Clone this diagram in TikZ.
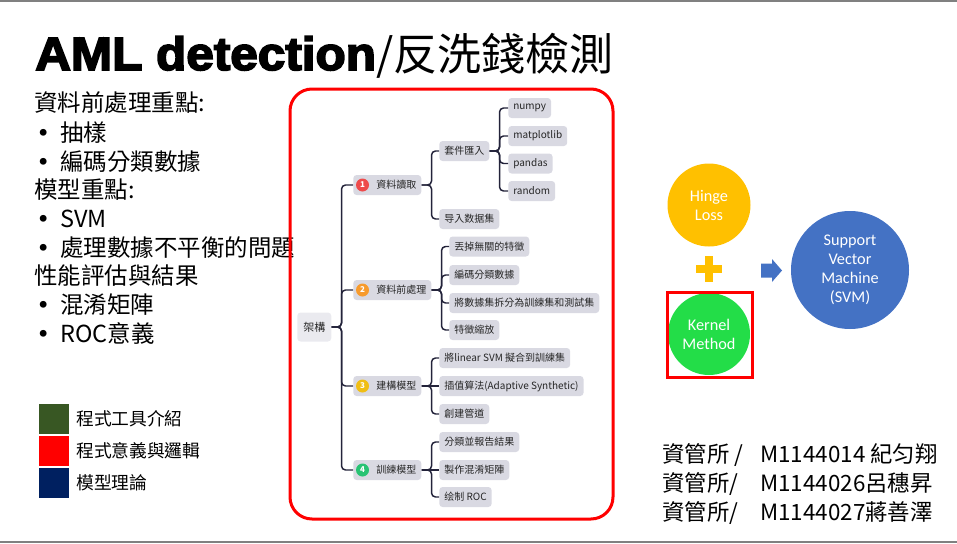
\documentclass[tikz,border=0pt]{standalone}
\usepackage{fontspec}
\usepackage{graphicx}
\setmainfont{Noto Sans CJK TC}
\newfontfamily\titlefont[FakeBold=3.5]{Liberation Sans Bold}
\newfontfamily\circfont{Carlito}
\newfontfamily\dotfont{DejaVu Sans}
\usetikzlibrary{calc}

\definecolor{mmfill}{RGB}{217,217,226}
\definecolor{mmroot}{RGB}{234,234,239}
\definecolor{mmline}{RGB}{35,35,58}
\definecolor{legG}{RGB}{56,87,35}
\definecolor{legN}{RGB}{0,32,96}
\definecolor{hingeC}{RGB}{255,192,0}
\definecolor{kernC}{RGB}{35,221,72}
\definecolor{svmC}{RGB}{68,114,196}
\definecolor{icA}{RGB}{238,75,75}
\definecolor{icB}{RGB}{247,155,45}
\definecolor{icC}{RGB}{240,190,20}
\definecolor{icD}{RGB}{40,195,115}
\definecolor{rule}{RGB}{128,128,128}

\newcommand{\bul}{\makebox[18pt][l]{\dotfont •}}

\tikzset{
  lt/.style={anchor=west, inner sep=0pt, font=\fontsize{17.6}{21}\selectfont},
  legsq/.style={minimum size=22.5pt, inner sep=0pt},
  legtxt/.style={anchor=west, inner sep=0pt, font=\fontsize{13.3}{16}\selectfont},
  mmbox/.style={anchor=west, fill=mmfill, rounded corners=2.5pt, inner xsep=3.75pt,
    inner ysep=0pt, minimum height=15pt, text=black!85, font=\fontsize{7.5}{9}\selectfont},
  mmtop/.style={mmbox, fill=mmroot, minimum height=21.75pt, inner xsep=4.5pt,
    font=\fontsize{8.25}{10}\selectfont},
  mmicon/.style={circle, inner sep=0pt, minimum size=9.75pt, text=white,
    font=\fontsize{6}{6}\selectfont\bfseries},
  conn/.style={draw=mmline, line width=1.1pt, rounded corners=3pt},
  ball/.style={circle, inner sep=0pt, text=white, align=center,
    font=\circfont\fontsize{12.2}{14.25}\selectfont},
  author/.style={anchor=west, inner sep=0pt, font=\fontsize{16.8}{20}\selectfont}
}

\begin{document}
\begin{tikzpicture}[x=0.75pt, y=-0.75pt]
\useasboundingbox (0,0) rectangle (957,543);

% slide rules
\draw[rule, line width=1.5pt] (0,1) -- (957,1);
\draw[rule, line width=1.5pt] (0,541.5) -- (957,541.5);

% title
\node[anchor=base west, inner sep=0pt] (title) at (35,70)
  {\scalebox{1.06}[1]{\titlefont\fontsize{35}{40}\selectfont AML detection}{\fontsize{33}{40}\selectfont/反洗錢檢測}};

% key points list
\node[lt] (h1) at (34,103) {資料前處理重點:};
\node[lt] (b1) at (36,133) {\bul 抽樣};
\node[lt] (b2) at (36,162) {\bul 編碼分類數據};
\node[lt] (h2) at (34,190) {模型重點:};
\node[lt] (b3) at (36,219) {\bul SVM};
\node[lt] (b4) at (36,248) {\bul 處理數據不平衡的問題};
\node[lt] (h3) at (34,276) {性能評估與結果};
\node[lt] (b5) at (36,305) {\bul 混淆矩陣};
\node[lt] (b6) at (36,333) {\bul ROC意義};

% legend
\node[legsq, fill=legG] (sq1) at (54,419) {};
\node[legsq, fill=red] (sq2) at (54,451) {};
\node[legsq, fill=legN] (sq3) at (54,483) {};
\node[legtxt] (lg1) at (76,419) {程式工具介紹};
\node[legtxt] (lg2) at (76,451) {程式意義與邏輯};
\node[legtxt] (lg3) at (76,483) {模型理論};

% frame around the mind map
\draw[red, line width=2.25pt, rounded corners=16.5pt] (290,89) rectangle (613,519);

% mind map: root and main branches
\node[mmtop] (root) at (297,327) {架構};
\node[mmbox] (n1) at (353,185) {\hspace*{13.5pt}資料讀取};
\node[mmbox] (n2) at (353,290) {\hspace*{13.5pt}資料前處理};
\node[mmbox] (n3) at (353,386) {\hspace*{13.5pt}建構模型};
\node[mmbox] (n4) at (353,470) {\hspace*{13.5pt}訓練模型};
\node[mmicon, fill=icA] (i1) at ($(n1.west)+(9.5,0)$) {1};
\node[mmicon, fill=icB] (i2) at ($(n2.west)+(9.5,0)$) {2};
\node[mmicon, fill=icC] (i3) at ($(n3.west)+(9.5,0)$) {3};
\node[mmicon, fill=icD] (i4) at ($(n4.west)+(9.5,0)$) {4};

% branch 1
\node[mmbox] (a1) at (439,151) {套件匯入};
\node[mmbox] (a2) at (439,219) {导入数据集};
\node[mmbox] (p1) at (508,108) {numpy};
\node[mmbox] (p2) at (508,136) {matplotlib};
\node[mmbox] (p3) at (508,163.5) {pandas};
\node[mmbox] (p4) at (508,191) {random};

% branch 2
\node[mmbox] (c1) at (449,246.5) {丟掉無關的特徵};
\node[mmbox] (c2) at (449,275) {編碼分類數據};
\node[mmbox] (c3) at (449,303) {將數據集拆分為訓練集和測試集};
\node[mmbox] (c4) at (449,330) {特徵縮放};

% branch 3
\node[mmbox] (d1) at (439,358) {將linear SVM 擬合到訓練集};
\node[mmbox] (d2) at (439,386) {插值算法(Adaptive Synthetic)};
\node[mmbox] (d3) at (439,414) {創建管道};

% branch 4
\node[mmbox] (e1) at (439,442) {分類並報告結果};
\node[mmbox] (e2) at (439,470) {製作混淆矩陣};
\node[mmbox] (e3) at (439,497) {绘制 ROC};

% connectors
\foreach \t in {n1,n2,n3,n4}
  \draw[conn] (root.east) -- ++(10,0) |- (\t.west);
\foreach \t in {a1,a2}
  \draw[conn] (n1.east) -- ++(10,0) |- (\t.west);
\foreach \t in {p1,p2,p3,p4}
  \draw[conn] (a1.east) -- ++(10,0) |- (\t.west);
\foreach \t in {c1,c2,c3,c4}
  \draw[conn] (n2.east) -- ++(10,0) |- (\t.west);
\foreach \t in {d1,d3}
  \draw[conn] (n3.east) -- ++(10,0) |- (\t.west);
\draw[conn] (n3.east) -- (d2.west);
\foreach \t in {e1,e3}
  \draw[conn] (n4.east) -- ++(10,0) |- (\t.west);
\draw[conn] (n4.east) -- (e2.west);

% SVM building blocks
\node[ball, fill=hingeC, minimum size=62.25pt] (hinge) at (709,205) {Hinge\\Loss};
\node[ball, fill=kernC, minimum size=61.5pt] (kernel) at (709,334) {Kernel\\Method};
\node[ball, fill=svmC, minimum size=88.5pt] (svm) at (850,270) {Support\\Vector\\Machine\\(SVM)};
\fill[hingeC] (696,265) rectangle (722,273);
\fill[hingeC] (705,256) rectangle (713,282);
\fill[svmC] (761,263.5) -- (772,263.5) -- (772,259) -- (782,270.5) -- (772,282)
  -- (772,277.5) -- (761,277.5) -- cycle;
\draw[red, line width=2.25pt] (667,292) rectangle (752,377);

% authors
\node[author] (au1) at (662,455) {\makebox[73.5pt][l]{資管所 /}M1144014 紀匀翔};
\node[author] (au2) at (662,484) {\makebox[73.5pt][l]{資管所/}M1144026呂穗昇};
\node[author] (au3) at (662,513) {\makebox[73.5pt][l]{資管所/}M1144027蔣善澤};
\end{tikzpicture}
\end{document}
